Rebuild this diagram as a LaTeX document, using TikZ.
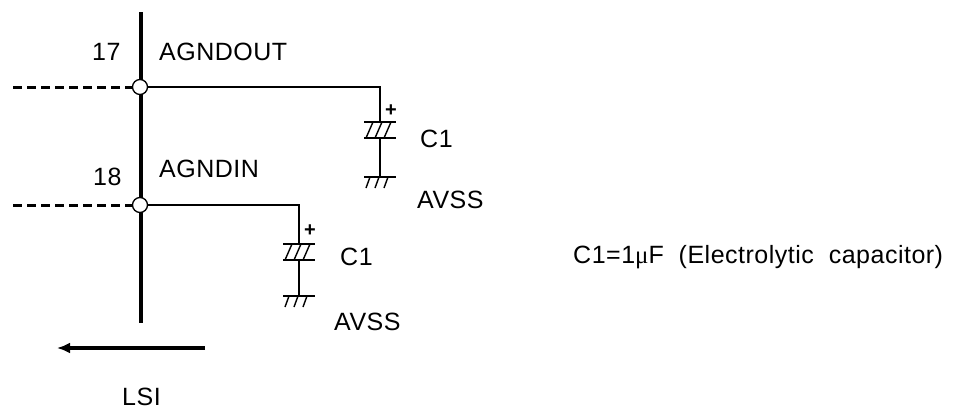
\documentclass[tikz,border=0pt]{standalone}
\usepackage{fontspec}
\setmainfont{Liberation Sans}[LetterSpace=2]
\newfontfamily\mufont{Liberation Serif}
\usetikzlibrary{arrows.meta}
\begin{document}
\begin{tikzpicture}[x=1pt,y=-1pt,
  wire/.style={line width=1.4pt},
  bus/.style={line width=3.4pt},
  dashline/.style={line width=3pt,dash pattern=on 9pt off 5pt},
  junction/.style={circle,draw,fill=white,line width=1.3pt,minimum size=15pt,inner sep=0pt},
  lbl/.style={font=\fontsize{25}{29}\selectfont,inner sep=0pt,anchor=base west},
  plus/.style={font=\bfseries\fontsize{20}{24}\selectfont,inner sep=0pt},
  ecap/.pic={
    \draw[wire] (-16,0) -- (16,0);
    \draw[wire] (-16,16) -- (16,16);
    \draw[wire] (-14,16) -- (-7,0) (-5,16) -- (2,0) (4,16) -- (11,0);
    \coordinate (-top) at (0,0);
    \coordinate (-bot) at (0,16);
  },
  gnd/.pic={
    \draw[wire] (-16,0) -- (16,0);
    \draw[wire] (-14,11) -- (-10,0) (-5,11) -- (-1,0) (4,11) -- (8,0);
    \coordinate (-top) at (0,0);
  }]
\useasboundingbox (0,0) rectangle (957,410);

% vertical LSI edge
\coordinate (bt) at (141,12);
\coordinate (bb) at (141,323);
\draw[bus] (bt) -- (bb);

% capacitors and grounds
\pic (ca) at (380,122) {ecap};
\pic (ga) at (380,177) {gnd};
\pic (cb) at (299,244) {ecap};
\pic (gb) at (299,296) {gnd};

% junctions
\node[junction] (j17) at (140,87) {};
\node[junction] (j18) at (140,205) {};

% dashed external lines
\coordinate (d17) at (13,87);
\coordinate (d18) at (13,205);
\draw[dashline] (d17) -- (j17.west);
\draw[dashline] (d18) -- (j18.west);

% wires
\draw[wire] (j17.east) -| (ca-top);
\draw[wire] (ca-bot) -- (ga-top);
\draw[wire] (j18.east) -| (cb-top);
\draw[wire] (cb-bot) -- (gb-top);

% plus signs
\node[plus] (pa) at (391,111) {+};
\node[plus] (pb) at (310,231) {+};

% arrow
\coordinate (as) at (205,348);
\coordinate (ae) at (57,348);
\draw[bus,-{Latex[length=13pt,width=11pt]}] (as) -- (ae);

% labels
\node[lbl] (n17) at (92,60) {17};
\node[lbl] (nout) at (159,60) {AGNDOUT};
\node[lbl] (n18) at (93,185) {18};
\node[lbl] (nin) at (159,177) {AGNDIN};
\node[lbl] (c1a) at (420,147) {C1};
\node[lbl] (avssa) at (417,208) {AVSS};
\node[lbl] (c1b) at (340,265) {C1};
\node[lbl] (avssb) at (334,330) {AVSS};
\node[lbl] (lsi) at (122,405) {LSI};
\node[lbl] (note) at (573,263) {C1=1{\mufont μ}F\ \ (Electrolytic\ \ capacitor)};
\end{tikzpicture}
\end{document}
